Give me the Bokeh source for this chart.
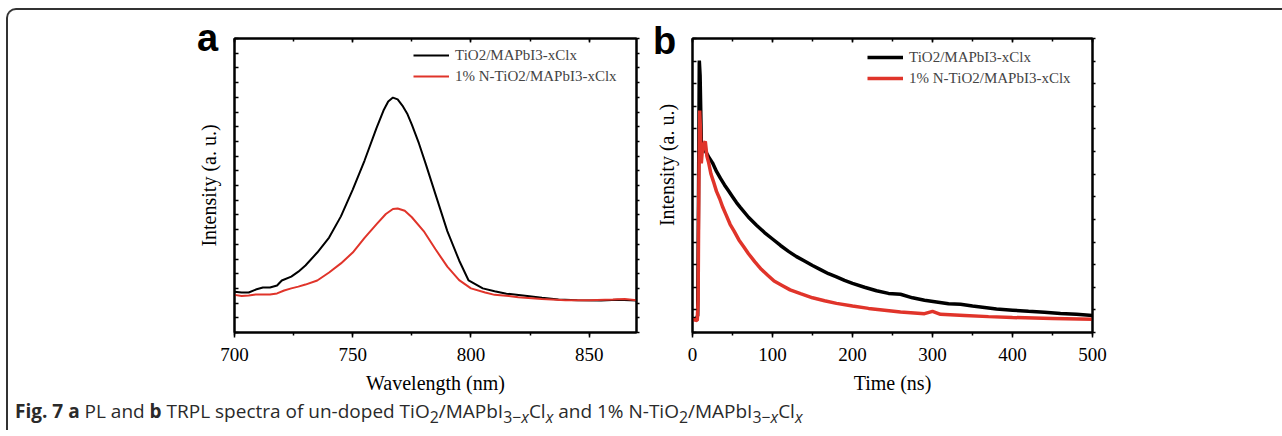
from bokeh.plotting import figure
from bokeh.models import (Range1d, LinearAxis, SingleIntervalTicker, FixedTicker,
                          Legend, LegendItem, Div)
from bokeh.layouts import row, column
from bokeh.embed import file_html
from bokeh.resources import INLINE

# ---------------- data ----------------
# Panel a: PL spectra (wavelength nm, intensity a.u.)
pl_wavelength_black = [700, 703, 706, 709, 712, 715, 718, 720, 724, 727, 730, 735, 740, 745,
                       750, 755, 760, 763, 765, 767, 769, 771, 773, 775, 778, 781, 785, 790,
                       795, 799, 805, 810, 815, 822, 830, 837, 845, 855, 862, 870]
pl_black = [139, 136, 136, 146, 153, 153, 160, 177, 190, 207, 228, 272, 323, 395,
            486, 585, 694, 755, 786, 799, 793, 772, 745, 707, 643, 570, 470, 345,
            245, 177, 150, 140, 132, 126, 118, 112, 110, 109, 111, 109]
pl_wavelength_red = [700, 703, 706, 709, 712, 715, 718, 721, 724, 727, 730, 735, 740, 745,
                     750, 755, 760, 764, 767, 769, 772, 775, 780, 785, 790, 795, 800, 806,
                     810, 816, 820, 830, 840, 850, 860, 865, 870]
pl_red = [128, 124, 126, 129, 129, 129, 133, 143, 150, 156, 163, 177, 204, 235,
          272, 322, 368, 403, 420, 422, 414, 392, 345, 283, 224, 178, 150, 136,
          128, 124, 120, 114, 110, 110, 112, 114, 110]

# Panel b: TRPL decays (time ns, intensity a.u.)
trpl_time_black = [0, 5, 6.5, 7.5, 8.5, 9.5, 11, 13, 16, 20, 25, 30, 35, 40, 45, 50, 55,
                   60, 70, 80, 90, 100, 110, 120, 130, 140, 150, 160, 170, 180, 190, 200,
                   215, 230, 245, 260, 275, 290, 305, 320, 335, 350, 365, 380, 400, 420,
                   440, 460, 480, 500]
trpl_black = [48, 48, 58, 449, 925, 874, 653, 622, 618, 598, 577, 548, 524, 502, 482, 462,
              442, 425, 392, 365, 340, 318, 296, 276, 258, 243, 228, 214, 200, 189, 177,
              167, 154, 142, 133, 130, 118, 110, 104, 98, 96, 90, 85, 80, 76, 72, 69,
              65, 62, 58]
trpl_time_red = [0, 6, 7, 8, 9, 10, 11, 12, 14, 16, 18, 20, 23, 26, 30, 34, 38, 42, 47, 52,
                 58, 64, 70, 78, 86, 94, 102, 112, 122, 135, 150, 165, 180, 200, 220, 240,
                 260, 290, 300, 310, 340, 370, 400, 450, 500]
trpl_red = [44, 41, 109, 517, 755, 687, 575, 610, 640, 650, 600, 580, 540, 515, 480, 455,
            425, 400, 368, 345, 315, 292, 268, 240, 215, 195, 175, 160, 145, 132, 118, 108,
            99, 90, 82, 76, 70, 64, 72, 62, 58, 54, 51, 48, 45]

series_labels = ["TiO2/MAPbI3-xClx", "1% N-TiO2/MAPbI3-xClx"]
pl_xticks_interval = 50
trpl_xticks_interval = 100
panel_letters = ["a", "b"]
y_label = "Intensity (a. u.)"

BLACK = "#000000"
RED = "#e0342a"
SERIF = "Liberation Serif"


def hide_labels(ax):
    ax.major_label_text_font_size = "1px"
    ax.major_label_text_color = None
    ax.major_label_standoff = 0


def base_axis(ax):
    ax.axis_line_width = 2
    ax.axis_line_color = "black"
    ax.major_tick_line_width = 1.5
    ax.minor_tick_line_width = 1.5
    ax.major_tick_line_color = "black"
    ax.minor_tick_line_color = "black"
    ax.major_label_text_font = SERIF
    ax.major_label_text_font_size = "19px"
    ax.major_label_text_color = "black"
    ax.axis_label_text_font = SERIF
    ax.axis_label_text_font_size = "20px"
    ax.axis_label_text_font_style = "normal"
    ax.axis_label_text_color = "black"


def make_fig(xr, yr, ml, mr, fw):
    p = figure(frame_width=fw, frame_height=294, min_border_left=ml, min_border_right=mr,
               min_border_top=17, min_border_bottom=60,
               x_range=xr, y_range=yr, output_backend="svg", toolbar_location=None)
    p.xgrid.visible = False
    p.ygrid.visible = False
    p.outline_line_color = "black"
    p.outline_line_width = 2
    p.background_fill_color = "white"
    p.border_fill_alpha = 0
    return p


def setup_axes(p, xint, yticker_factory, xlabel, ylabel):
    bx = p.xaxis[0]
    base_axis(bx)
    bx.ticker = SingleIntervalTicker(interval=xint, num_minor_ticks=2)
    bx.major_tick_out = 5
    bx.major_tick_in = 0
    bx.minor_tick_out = 3
    bx.minor_tick_in = 0
    bx.major_label_standoff = 10
    bx.axis_label = xlabel
    bx.axis_label_standoff = 8

    ly = p.yaxis[0]
    base_axis(ly)
    ly.ticker = yticker_factory()
    ly.major_tick_in = 4
    ly.major_tick_out = 0
    ly.minor_tick_in = 0
    ly.minor_tick_out = 0
    hide_labels(ly)
    if ylabel:
        ly.axis_label = ylabel
        ly.axis_label_standoff = 15

    top = LinearAxis(ticker=SingleIntervalTicker(interval=xint, num_minor_ticks=2))
    base_axis(top)
    top.major_tick_in = 4
    top.major_tick_out = 0
    top.minor_tick_in = 3
    top.minor_tick_out = 0
    hide_labels(top)
    p.add_layout(top, "above")

    rt = LinearAxis(ticker=yticker_factory())
    base_axis(rt)
    rt.major_tick_in = 0
    rt.major_tick_out = 3
    rt.minor_tick_in = 0
    rt.minor_tick_out = 0
    hide_labels(rt)
    p.add_layout(rt, "right")


def add_legend(p, renderers, loc):
    items = [LegendItem(label=lab, renderers=[r]) for lab, r in zip(series_labels, renderers)]
    lg = Legend(items=items, location=loc, padding=0, spacing=1, margin=0,
                glyph_width=36, glyph_height=20, label_height=20, label_standoff=6,
                label_text_font=SERIF, label_text_font_size="15px",
                border_line_color=None, background_fill_alpha=0)
    p.add_layout(lg)


# ---------------- panel a ----------------
pa = make_fig(Range1d(700, 870), Range1d(0, 1000), 226, 13, 402)
setup_axes(pa, pl_xticks_interval, lambda: SingleIntervalTicker(interval=50, num_minor_ticks=0),
           "Wavelength (nm)", y_label)
ra1 = pa.line(pl_wavelength_black, pl_black, line_color=BLACK, line_width=2)
ra2 = pa.line(pl_wavelength_red, pl_red, line_color=RED, line_width=2)
add_legend(pa, [ra1, ra2], (179, 246))

# ---------------- panel b ----------------
pb = make_fig(Range1d(0, 500), Range1d(0, 1000), 43, 182, 400)
setup_axes(pb, trpl_xticks_interval,
           lambda: FixedTicker(ticks=[i * 1000 / 13 for i in range(14)], minor_ticks=[]),
           "Time (ns)", None)
rb1 = pb.line(trpl_time_black, trpl_black, line_color=BLACK, line_width=3.5)
rb2 = pb.line(trpl_time_red, trpl_red, line_color=RED, line_width=3.5)
add_legend(pb, [rb1, rb2], (175, 244))

# panel letters and the second y label, as HTML text laid over the figures' borders
letter_css = ("position:absolute;font-family:'Liberation Sans';font-weight:bold;"
              "font-size:38px;line-height:38px;color:#000;white-space:nowrap;")
overlay = Div(
    text=(f"<div style='position:relative;width:0;height:0;'>"
          f"<span style=\"{letter_css}left:184px;top:-8px;\">{panel_letters[0]}</span>"
          f"<span style=\"{letter_css}left:640px;top:-5px;\">{panel_letters[1]}</span>"
          f"<span style=\"position:absolute;left:654px;top:138px;font-family:'Liberation Serif';"
          f"font-size:20px;line-height:24px;color:#000;white-space:nowrap;"
          f"transform:translate(-50%,-50%) rotate(-90deg);\">{y_label}</span>"
          f"</div>"),
    width=1268, height=1, styles={"overflow": "visible", "z-index": "5"})

caption = Div(
    text=("<b>Fig. 7</b> <b>a</b> PL and <b>b</b> TRPL spectra of un-doped "
          "TiO<sub>2</sub>/MAPbI<sub>3&minus;<i>x</i></sub>Cl<sub><i>x</i></sub> and "
          "1% N-TiO<sub>2</sub>/MAPbI<sub>3&minus;<i>x</i></sub>Cl<sub><i>x</i></sub>"),
    width=1260, height=24,
    styles={"font-family": "Open Sans", "font-size": "19px", "line-height": "20px",
            "color": "#2a2a2a", "padding-left": "2px", "padding-top": "0px"})

layout = column(overlay, row(pa, pb), caption,
                styles={"border-top": "2px solid #333", "border-left": "2px solid #333",
                        "border-top-left-radius": "10px", "margin-left": "6px",
                        "margin-top": "8px"})

open("out.html", "w").write(file_html(layout, INLINE))
